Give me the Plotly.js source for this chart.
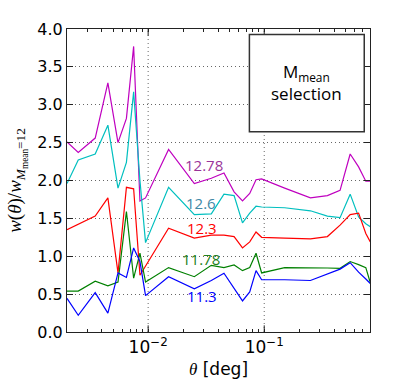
<!DOCTYPE html>
<html>
<head>
<meta charset="utf-8">
<script src="https://cdn.plot.ly/plotly-3.0.1.min.js"></script>
<style>
  html, body { margin: 0; padding: 0; background: #fff; }
  #plot { width: 409px; height: 381px; }
</style>
</head>
<body>
<div id="plot"></div>
<script>
// angular bins (deg)
const theta = [0.002, 0.0025, 0.0035, 0.0045, 0.0055, 0.0065, 0.0075, 0.0085, 0.0095,
               0.015, 0.025, 0.035, 0.045, 0.055, 0.065, 0.075, 0.085, 0.095,
               0.15, 0.25, 0.35, 0.45, 0.55, 0.65, 0.75, 0.82];

// w(theta) / w(Mmean=12) for each mass selection
const m1278 = [2.51, 2.37, 2.56, 3.29, 2.50, 2.82, 3.77, 1.73, 1.77,
               2.41, 1.96, 2.03, 2.10, 1.85, 1.73, 1.83, 2.01, 2.02,
               1.90, 1.77, 1.80, 1.87, 2.35, 2.18, 1.99, 1.99];
const m126  = [1.96, 2.27, 2.35, 2.73, 1.90, 2.24, 3.17, 2.00, 1.18,
               1.91, 1.55, 1.56, 1.82, 1.80, 1.44, 1.57, 1.66, 1.65,
               1.64, 1.60, 1.53, 1.51, 1.82, 1.52, 1.43, 1.39];
const m123  = [1.35, 1.42, 1.53, 1.77, 0.78, 1.91, 1.89, 0.75, 0.87,
               1.37, 1.24, 1.28, 1.28, 1.26, 1.11, 1.19, 1.32, 1.25,
               1.24, 1.23, 1.26, 1.41, 1.55, 1.57, 1.30, 1.19];
const m1178 = [0.54, 0.54, 0.67, 0.61, 0.66, 1.59, 0.71, 1.04, 0.66,
               0.85, 0.73, 0.88, 0.85, 0.885, 0.81, 0.85, 1.04, 0.78,
               0.85, 0.85, 0.845, 0.84, 0.93, 0.89, 0.85, 0.65];
const m113  = [0.445, 0.22, 0.52, 0.25, 0.78, 0.72, 1.11, 0.93, 0.48,
               0.73, 0.57, 0.68, 0.775, 0.57, 0.41, 0.53, 0.81, 0.69,
               0.69, 0.68, 0.77, 0.83, 0.915, 0.79, 0.70, 0.64];

const names = ['12.78', '12.6', '12.3', '11.78', '11.3'];
const series = [m1278, m126, m123, m1178, m113];
const lineColors = ['#bf00bf', '#00bfbf', '#ff0000', '#008000', '#0000ff'];
const textColors = ['#9a3399', '#4088a6', '#ff0000', '#208020', '#0000ff'];
// label anchor positions (data coords)
const labelX = [0.0302, 0.0288, 0.0290, 0.0288, 0.0290];
const labelY = [2.21, 1.70, 1.37, 0.96, 0.47];

const majorTicks = [0.01, 0.1];
const majorText = ['10<sup>−2</sup>', '10<sup>−1</sup>'];

// all log ticks (1..9 x each decade), labels only on the decades
const xTickVals = [];
const xTickText = [];
[0.001, 0.01, 0.1].forEach(d => {
    for (let k = 1; k <= 9; k++) {
        const v = +(k * d).toPrecision(3);
        xTickVals.push(v);
        const m = majorTicks.indexOf(v);
        xTickText.push(m >= 0 ? majorText[m] : '');
    }
});

const xRange = [Math.log10(0.002), Math.log10(0.815)];
const toPaperX = v => (Math.log10(v) - xRange[0]) / (xRange[1] - xRange[0]);

const traces = series.map((ys, i) => ({
    x: theta,
    y: ys,
    mode: 'lines',
    type: 'scatter',
    name: names[i],
    line: { color: lineColors[i], width: 1.2 },
    hoverinfo: 'skip'
}));

const annotations = names.map((n, i) => ({
    x: Math.log10(labelX[i]),
    y: labelY[i],
    xref: 'x', yref: 'y',
    xanchor: 'center', yanchor: 'middle',
    text: n,
    showarrow: false,
    font: { family: 'Open Sans, sans-serif', size: 15, color: textColors[i] }
}));

// text of the selection box
annotations.push({
    x: 0.7915, y: 0.825, xref: 'paper', yref: 'paper',
    xanchor: 'center', yanchor: 'middle',
    text: 'M<sub>mean</sub><br>selection',
    showarrow: false,
    align: 'center',
    font: { family: 'Open Sans, sans-serif', size: 17, color: '#000' }
});

const gridColor = 'rgba(0,0,0,0.6)';

// vertical grid lines and longer major ticks at the decades
const shapes = [];
majorTicks.forEach(v => {
    const px = toPaperX(v);
    shapes.push({ type: 'line', xref: 'paper', yref: 'paper', x0: px, x1: px, y0: 0, y1: 1,
                  line: { color: gridColor, width: 1, dash: '1px,3px' }, layer: 'below' });
    shapes.push({ type: 'line', xref: 'paper', yref: 'paper', x0: px, x1: px, y0: 0, y1: 0.022,
                  line: { color: '#222', width: 1 } });
    shapes.push({ type: 'line', xref: 'paper', yref: 'paper', x0: px, x1: px, y0: 0.978, y1: 1,
                  line: { color: '#222', width: 1 } });
});
shapes.push({
    type: 'rect', xref: 'paper', yref: 'paper',
    x0: 0.602, x1: 0.981, y0: 0.661, y1: 0.982,
    line: { color: '#333', width: 1.5 },
    fillcolor: '#fff',
    layer: 'above'
});

const axisCommon = {
    showline: true,
    mirror: 'allticks',
    linecolor: '#222',
    linewidth: 1,
    ticks: 'inside',
    ticklen: 6,
    tickcolor: '#222',
    zeroline: false,
    tickfont: { family: 'DejaVu Sans, sans-serif', size: 16, color: '#000' }
};

const layout = {
    width: 409,
    height: 381,
    margin: { l: 67, r: 39, t: 29, b: 49 },
    paper_bgcolor: '#fff',
    plot_bgcolor: '#fff',
    showlegend: false,
    xaxis: {
        ...axisCommon,
        type: 'log',
        range: xRange,
        tickmode: 'array',
        tickvals: xTickVals,
        ticktext: xTickText,
        ticklen: 3,
        showgrid: false,
        tickfont: { family: 'DejaVu Sans, sans-serif', size: 17, color: '#000' },
        title: {
            text: '<span style="font-family:Liberation Serif"><i>θ</i></span> [deg]',
            font: { family: 'DejaVu Sans, sans-serif', size: 17, color: '#000' },
            standoff: 6
        }
    },
    yaxis: {
        ...axisCommon,
        range: [0, 4],
        dtick: 0.5,
        tickformat: '.1f',
        showgrid: true,
        gridcolor: gridColor,
        griddash: '1px,3px',
        gridwidth: 1,
        title: {
            text: '<i>w</i>(<i>θ</i>)/<i>w</i><sub><i>M</i><sub>mean</sub>=12</sub>',
            font: { family: 'Liberation Serif, serif', size: 19, color: '#000' },
            standoff: 10
        }
    },
    shapes: shapes,
    annotations: annotations
};

Plotly.newPlot('plot', traces, layout, { staticPlot: true });
</script>
</body>
</html>
